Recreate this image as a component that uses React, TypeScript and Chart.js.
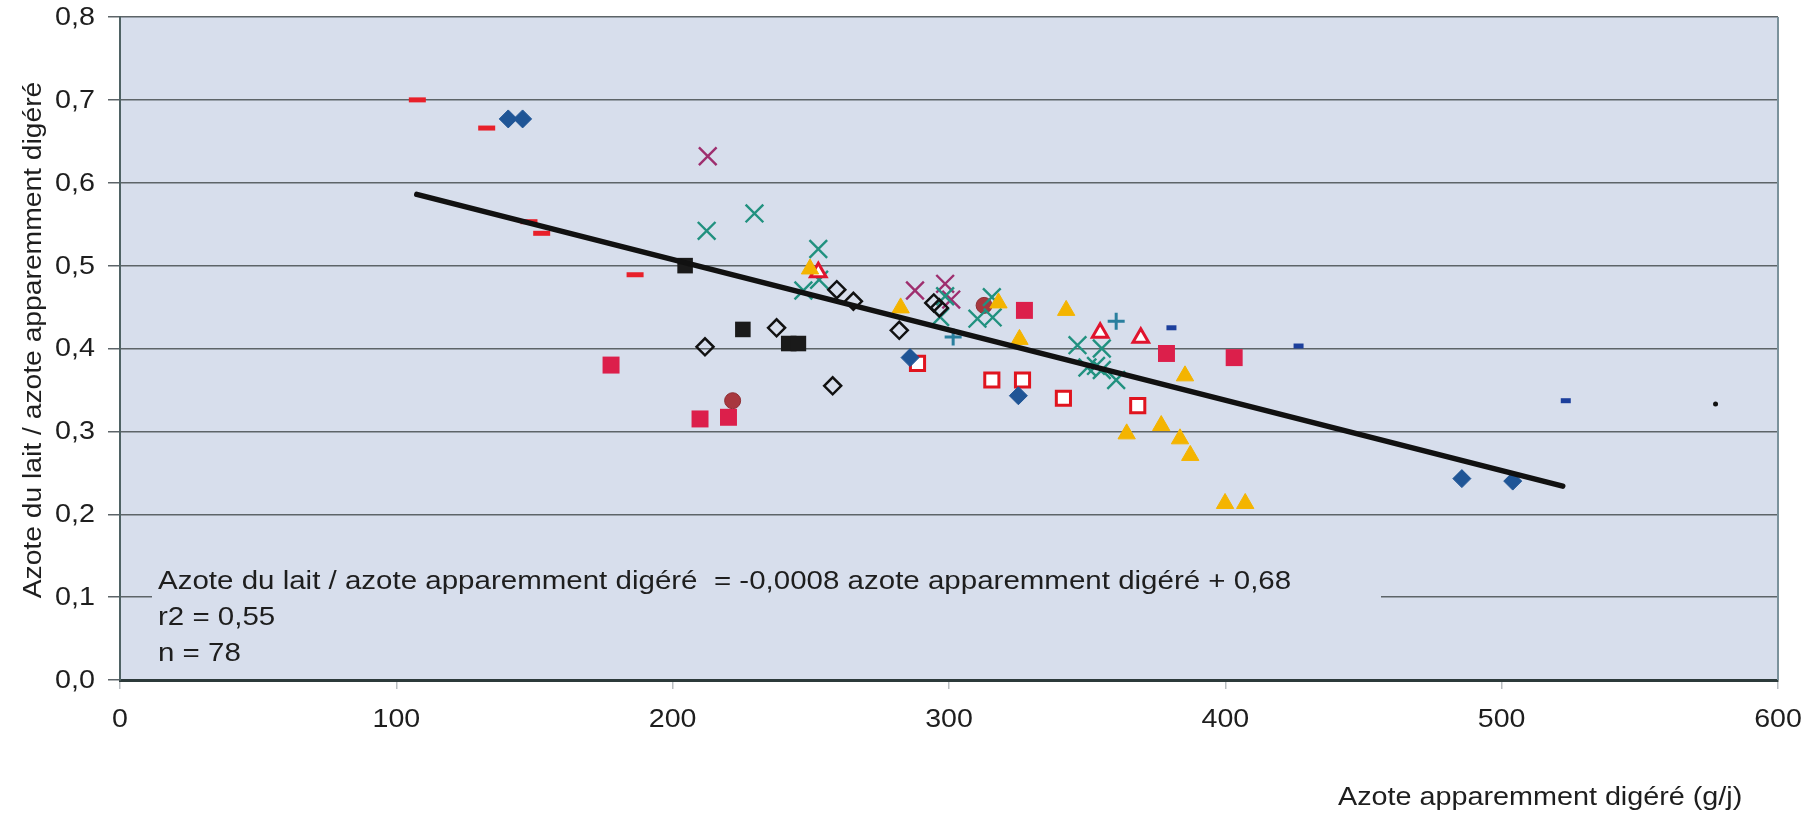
import React, { useEffect, useRef } from 'react';
import { Chart, registerables } from 'chart.js';

Chart.register(...registerables);

// ---- Axis ticks & titles ----
const xTickValues = [0, 100, 200, 300, 400, 500, 600];
const xTickLabels = ['0', '100', '200', '300', '400', '500', '600'];
const yTickValues = [0, 0.1, 0.2, 0.3, 0.4, 0.5, 0.6, 0.7, 0.8];
const yTickLabels = ['0,0', '0,1', '0,2', '0,3', '0,4', '0,5', '0,6', '0,7', '0,8'];
const xTitle = 'Azote apparemment digéré (g/j)';
const yTitle = 'Azote du lait / azote apparemment digéré';
const equationLines = [
  'Azote du lait / azote apparemment digéré  = -0,0008 azote apparemment digéré + 0,68',
  'r2 = 0,55',
  'n = 78',
];

// ---- Trend line ----
const trendX = [107.4, 522.1];
const trendY = [0.586, 0.234];

// ---- Series ----
const redDashX = [107.6, 132.7, 148.0, 152.6, 186.4];
const redDashY = [0.700, 0.666, 0.553, 0.539, 0.489];

const blueDiamondX = [140.5, 145.7, 285.9, 325.1, 485.6, 504.0];
const blueDiamondY = [0.677, 0.677, 0.389, 0.343, 0.243, 0.240];

const openDiamondX = [211.7, 237.6, 257.9, 259.4, 265.4, 282.0, 294.5, 296.5];
const openDiamondY = [0.402, 0.425, 0.355, 0.471, 0.457, 0.422, 0.455, 0.449];

const blackSquareX = [204.5, 225.4, 242.0, 245.5];
const blackSquareY = [0.500, 0.423, 0.406, 0.406];

const redSquareX = [177.7, 209.9, 220.2, 327.3, 378.7, 403.2];
const redSquareY = [0.380, 0.315, 0.317, 0.446, 0.394, 0.389];

const openRedSquareX = [288.6, 315.5, 326.6, 341.4, 368.3];
const openRedSquareY = [0.382, 0.362, 0.362, 0.340, 0.331];

const yellowTriX = [249.7, 282.5, 317.9, 325.5, 342.4, 364.3, 376.8, 383.6, 385.4, 387.3, 399.9, 407.2];
const yellowTriY = [0.496, 0.449, 0.455, 0.411, 0.446, 0.297, 0.307, 0.291, 0.367, 0.271, 0.213, 0.213];

const openRedTriX = [252.7, 354.7, 369.4];
const openRedTriY = [0.492, 0.419, 0.413];

const tealCrossX = [212.3, 229.6, 252.7, 253.0, 247.3, 298.6, 296.8, 315.5, 310.3, 315.8, 346.5, 355.3, 350.1, 353.2, 355.3, 360.5];
const tealCrossY = [0.542, 0.563, 0.520, 0.483, 0.470, 0.463, 0.438, 0.462, 0.436, 0.4375, 0.404, 0.400, 0.377, 0.379, 0.374, 0.362];

const purpleCrossX = [212.7, 287.7, 298.6, 300.8];
const purpleCrossY = [0.632, 0.470, 0.478, 0.459];

const tealPlusX = [301.5, 360.5];
const tealPlusY = [0.414, 0.433];

const blueDashX = [380.5, 426.5, 523.2];
const blueDashY = [0.425, 0.403, 0.337];

const brownCircleX = [221.7, 312.7];
const brownCircleY = [0.337, 0.452];

const blackDotX = [577.4];
const blackDotY = [0.333];

const FONT = "'Liberation Sans', Arial, Helvetica, sans-serif";
const PLOT_BG = '#D7DEEC';

function pts(xs: number[], ys: number[]) {
  return xs.map((x, i) => ({ x, y: ys[i] }));
}

function stretchText(ctx: CanvasRenderingContext2D, text: string, x: number, y: number, align: CanvasTextAlign, sx: number) {
  ctx.save();
  ctx.translate(x, y);
  ctx.scale(sx, 1);
  ctx.textAlign = align;
  ctx.fillText(text, 0, 0);
  ctx.restore();
}

const decorPlugin = {
  id: 'decor',
  beforeDraw(chart: any) {
    const { ctx, chartArea: a } = chart;
    ctx.save();
    ctx.fillStyle = '#ffffff';
    ctx.fillRect(0, 0, chart.width, chart.height);
    ctx.fillStyle = PLOT_BG;
    ctx.fillRect(a.left, a.top, a.right - a.left, a.bottom - a.top);
    ctx.restore();
  },
  beforeDatasetsDraw(chart: any) {
    const { ctx, chartArea: a } = chart;
    ctx.save();
    // right frame
    ctx.strokeStyle = '#7b929c';
    ctx.lineWidth = 2;
    ctx.beginPath();
    ctx.moveTo(a.right, a.top);
    ctx.lineTo(a.right, a.bottom);
    ctx.stroke();
    // equation box (hides the gridline behind it)
    ctx.fillStyle = PLOT_BG;
    ctx.fillRect(152, 548, 1381 - 152, 124);
    ctx.fillStyle = '#1e1e1e';
    ctx.font = `25px ${FONT}`;
    ctx.textBaseline = 'alphabetic';
    const baselines = [589, 625, 661];
    equationLines.forEach((t, i) => stretchText(ctx, t, 158, baselines[i], 'left', 1.18));
    ctx.restore();
  },
  afterDraw(chart: any) {
    const { ctx } = chart;
    const xs = chart.scales.x;
    const ys = chart.scales.y;
    ctx.save();
    ctx.fillStyle = '#1e1e1e';
    ctx.textBaseline = 'middle';
    ctx.font = `25px ${FONT}`;
    yTickValues.forEach((v, i) => {
      const py = ys.getPixelForValue(v);
      stretchText(ctx, yTickLabels[i], 95, py + 1, 'right', 1.15);
    });
    ctx.font = `26px ${FONT}`;
    xTickValues.forEach((v, i) => {
      const px = xs.getPixelForValue(v);
      stretchText(ctx, xTickLabels[i], px, 720, 'center', 1.1);
    });
    ctx.font = `25px ${FONT}`;
    stretchText(ctx, xTitle, 1338, 798, 'left', 1.15);
    // y title rotated
    ctx.save();
    ctx.translate(34, 340);
    ctx.rotate(-Math.PI / 2);
    ctx.scale(1.13, 1);
    ctx.textAlign = 'center';
    ctx.fillText(yTitle, 0, 0);
    ctx.restore();
    ctx.restore();
  },
};

export default function App() {
  const canvasRef = useRef<HTMLCanvasElement | null>(null);

  useEffect(() => {
    if (!canvasRef.current) return;
    const mk = (label: string, xs: number[], ys: number[], style: any) => ({
      label,
      data: pts(xs, ys),
      order: 1,
      ...style,
    });
    const chart = new Chart(canvasRef.current, {
      type: 'scatter',
      data: {
        datasets: [
          {
            label: 'Régression',
            data: pts(trendX, trendY),
            showLine: true,
            borderColor: '#111111',
            borderWidth: 5.5,
            borderCapStyle: 'round',
            pointRadius: 0,
            order: 0,
          },
          mk('tiret rouge', redDashX, redDashY, { pointStyle: 'line', pointRadius: 8.5, borderColor: '#E8202A', borderWidth: 5 }),
          mk('losange bleu', blueDiamondX, blueDiamondY, { pointStyle: 'rectRot', pointRadius: 9, backgroundColor: '#1F5596', borderColor: '#1F5596', borderWidth: 1 }),
          mk('losange vide', openDiamondX, openDiamondY, { pointStyle: 'rectRot', pointRadius: 8.5, backgroundColor: 'rgba(0,0,0,0)', borderColor: '#111111', borderWidth: 2.5 }),
          mk('carré noir', blackSquareX, blackSquareY, { pointStyle: 'rect', pointRadius: 11, backgroundColor: '#1a1a1a', borderColor: '#1a1a1a', borderWidth: 0 }),
          mk('carré rouge', redSquareX, redSquareY, { pointStyle: 'rect', pointRadius: 12, backgroundColor: '#DC1F4B', borderColor: '#DC1F4B', borderWidth: 0 }),
          mk('carré vide', openRedSquareX, openRedSquareY, { pointStyle: 'rect', pointRadius: 10, backgroundColor: '#ffffff', borderColor: '#E0141E', borderWidth: 3 }),
          mk('triangle jaune', yellowTriX, yellowTriY, { pointStyle: 'triangle', pointRadius: 10, backgroundColor: '#F4B400', borderColor: '#F4B400', borderWidth: 1 }),
          mk('triangle vide', openRedTriX, openRedTriY, { pointStyle: 'triangle', pointRadius: 9, backgroundColor: '#ffffff', borderColor: '#E0142E', borderWidth: 3 }),
          mk('croix verte', tealCrossX, tealCrossY, { pointStyle: 'crossRot', pointRadius: 12.5, borderColor: '#21917F', borderWidth: 2.4 }),
          mk('croix violette', purpleCrossX, purpleCrossY, { pointStyle: 'crossRot', pointRadius: 12.5, borderColor: '#9E2E6E', borderWidth: 2.4 }),
          mk('plus', tealPlusX, tealPlusY, { pointStyle: 'cross', pointRadius: 8.5, borderColor: '#2A7F9E', borderWidth: 3 }),
          mk('tiret bleu', blueDashX, blueDashY, { pointStyle: 'line', pointRadius: 5, borderColor: '#1C3F9C', borderWidth: 5 }),
          mk('cercle', brownCircleX, brownCircleY, { pointStyle: 'circle', pointRadius: 8, backgroundColor: '#A8383F', borderColor: '#8E2E34', borderWidth: 1 }),
          mk('point', blackDotX, blackDotY, { pointStyle: 'circle', pointRadius: 2.5, backgroundColor: '#111111', borderColor: '#111111', borderWidth: 0 }),
        ],
      },
      options: {
        animation: false,
        responsive: true,
        maintainAspectRatio: false,
        layout: { padding: { top: 17, right: 35, left: 0, bottom: 0 } },
        plugins: { legend: { display: false }, tooltip: { enabled: false } },
        elements: { point: { hoverRadius: 0 } },
        scales: {
          x: {
            type: 'linear',
            min: 0,
            max: 600,
            ticks: { display: false, stepSize: 100 },
            grid: { drawOnChartArea: false, drawTicks: true, tickLength: 9, color: '#b9bec2', lineWidth: 1.5 },
            border: { display: true, color: '#2c3a3a', width: 3 },
            afterFit: (s: any) => { s.height = 144; },
          },
          y: {
            type: 'linear',
            min: 0,
            max: 0.8,
            ticks: { display: false, stepSize: 0.1 },
            grid: { color: '#5d6468', lineWidth: 1.5, drawTicks: true, tickLength: 12 },
            border: { display: true, color: '#4f6264', width: 2 },
            afterFit: (s: any) => { s.width = 120; },
          },
        },
      },
      plugins: [decorPlugin],
    } as any);
    return () => chart.destroy();
  }, []);

  return (
    <div style={{ position: 'fixed', left: 0, top: 0, width: 1813, height: 824, background: '#fff' }}>
      <canvas ref={canvasRef} />
    </div>
  );
}
